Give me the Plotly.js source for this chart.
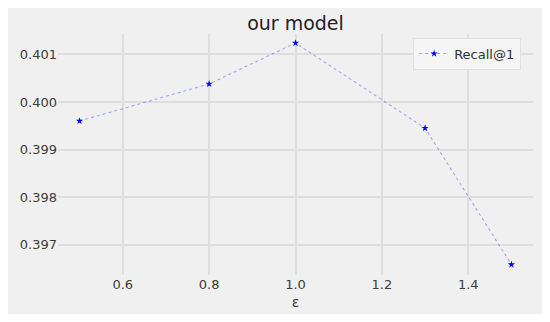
<!DOCTYPE html>
<html>
<head>
<meta charset="utf-8">
<script src="https://cdn.plot.ly/plotly-3.0.1.min.js"></script>
<style>
  body { margin: 0; background: #ffffff; }
  #chart { position: absolute; left: 8px; top: 8px; width: 534px; height: 306px; }
</style>
</head>
<body>
<div id="chart"></div>
<script>
// epsilon values and recall@1
var epsValues = [0.5, 0.8, 1.0, 1.3, 1.5];
var recallValues = [0.39960, 0.40038, 0.40124, 0.39945, 0.39658];
var xTicks = [0.6, 0.8, 1.0, 1.2, 1.4];
var xTickText = ["0.6", "0.8", "1.0", "1.2", "1.4"];
var yTicks = [0.397, 0.398, 0.399, 0.400, 0.401];
var yTickText = ["0.397", "0.398", "0.399", "0.400", "0.401"];

var font = "DejaVu Sans, sans-serif";

var trace = {
  x: epsValues,
  y: recallValues,
  mode: "lines+markers",
  name: "Recall@1",
  line: { color: "rgba(70,70,255,0.45)", width: 1.1, dash: "dot" },
  marker: { symbol: "star", size: 5.5, color: "#0000ff" }
};

var layout = {
  width: 534,
  height: 306,
  margin: { l: 50, r: 9, t: 26, b: 39 },
  paper_bgcolor: "#f0f0f0",
  plot_bgcolor: "#f0f0f0",
  font: { family: font, size: 13, color: "#3c3c3c" },
  title: {
    text: "our model",
    font: { family: font, size: 19, color: "#222222" },
    x: 0.5, xref: "paper",
    y: 1 - 15/306, yref: "container", yanchor: "middle"
  },
  xaxis: {
    range: [0.45, 1.55],
    tickvals: xTicks,
    ticktext: xTickText,
    showgrid: true,
    gridcolor: "#dedede",
    gridwidth: 2,
    zeroline: false,
    showline: false,
    ticks: "",
    title: { text: "ε", font: { family: font, size: 14, color: "#3c3c3c" }, standoff: 6 }
  },
  yaxis: {
    range: [0.39636, 0.40143],
    tickvals: yTicks,
    ticktext: yTickText,
    showgrid: true,
    gridcolor: "#dedede",
    gridwidth: 2,
    zeroline: false,
    showline: false,
    ticks: ""
  },
  showlegend: true,
  legend: {
    x: 0.975, xanchor: "right",
    y: 0.985, yanchor: "top",
    bgcolor: "#f5f5f5",
    bordercolor: "#e0e0e0",
    borderwidth: 1,
    font: { family: font, size: 13, color: "#333333" }
  }
};

Plotly.newPlot("chart", [trace], layout, { displayModeBar: false, staticPlot: true });
</script>
</body>
</html>
